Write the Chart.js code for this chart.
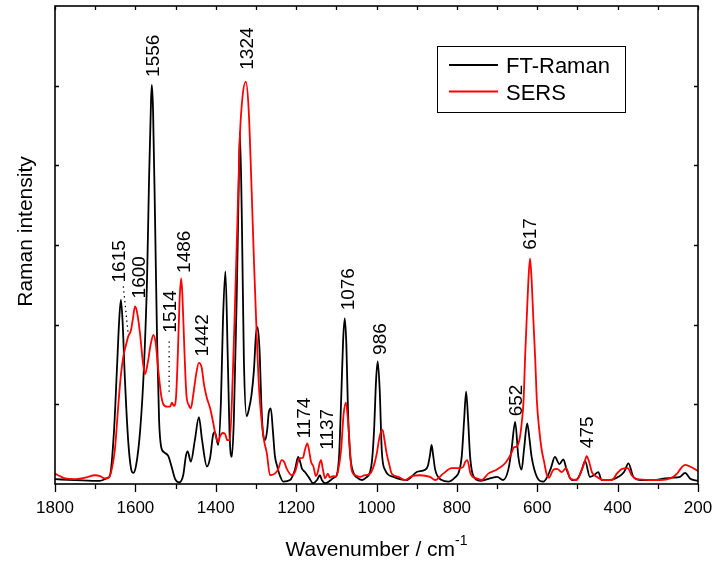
<!DOCTYPE html>
<html>
<head>
<meta charset="utf-8">
<script src="https://cdn.jsdelivr.net/npm/chart.js@4/dist/chart.umd.min.js"></script>
<style>
html,body{margin:0;padding:0;background:#fff;overflow:hidden;}
#wrap{width:718px;height:563px;position:relative;overflow:hidden;}
#c{display:block;}
</style>
</head>
<body>
<div id="wrap"><canvas id="c" width="718" height="563"></canvas></div>
<script>
// ---------- data ----------
const seriesNames = ['FT-Raman', 'SERS'];

const ftWavenumber = [1800,1750,1688,1668,1663,1653,1646,1640,1636,1632,1626,1618,1611,1605,1598,1588,1579,1571,1566,1561,1559,1556,1551,1546,1541,1536,1529,1518,1509,1501,1491,1481,1474,1470,1462,1452,1442,1434,1422,1414,1406,1402,1394,1387,1382,1376,1370,1365,1360,1355,1348,1343,1340,1335,1330,1323,1317,1311,1305,1300,1296,1291,1286,1282,1277,1272,1268,1263,1258,1253,1248,1240,1232,1215,1203,1195,1190,1186,1178,1168,1158,1148,1141,1136,1128,1116,1106,1099,1093,1088,1083,1079,1075,1071,1066,1058,1048,1036,1026,1016,1011,1006,1001,997,992,987,979,958,925,900,879,872,867,863,859,854,838,821,805,795,788,782,777,772,767,755,740,718,700,685,672,664,655,647,639,633,625,619,614,601,585,576,566,556,545,535,527,514,501,489,481,469,459,448,440,419,398,384,373,361,344,311,282,262,245,232,220,200];
const ftIntensity = [0.06,0.05,0.04,0.08,0.11,0.68,1.43,2.08,2.31,2.06,1.31,0.55,0.20,0.14,0.24,0.68,1.43,2.56,3.82,4.82,5.01,4.69,3.31,1.81,0.80,0.47,0.40,0.35,0.20,0.06,0.02,0.11,0.36,0.41,0.28,0.55,0.84,0.55,0.22,0.33,0.63,0.65,0.49,1.05,2.06,2.67,1.56,0.55,0.34,0.80,2.31,3.69,4.42,3.31,1.56,0.85,0.95,1.12,1.43,1.87,1.97,1.68,0.93,0.62,0.55,0.68,0.90,0.95,0.68,0.36,0.24,0.10,0.03,0.05,0.18,0.34,0.28,0.20,0.15,0.08,0.01,0.05,0.11,0.05,0.01,0.04,0.08,0.11,0.36,1.05,1.81,2.08,1.75,0.93,0.39,0.15,0.08,0.05,0.08,0.15,0.30,0.68,1.31,1.54,1.18,0.43,0.18,0.09,0.05,0.15,0.18,0.23,0.36,0.49,0.36,0.18,0.05,0.03,0.08,0.15,0.34,0.80,1.16,0.80,0.34,0.07,0.04,0.07,0.09,0.05,0.18,0.43,0.78,0.34,0.18,0.43,0.76,0.55,0.34,0.09,0.03,0.08,0.20,0.34,0.25,0.31,0.18,0.05,0.06,0.18,0.29,0.09,0.11,0.15,0.05,0.05,0.09,0.15,0.26,0.09,0.05,0.05,0.07,0.08,0.09,0.14,0.07,0.04];

const sersWavenumber = [1800,1788,1775,1750,1725,1700,1688,1676,1666,1659,1651,1642,1636,1630,1623,1618,1611,1606,1601,1596,1588,1582,1576,1569,1562,1555,1549,1543,1536,1531,1521,1514,1509,1504,1499,1494,1490,1486,1483,1478,1473,1467,1462,1456,1449,1442,1435,1429,1422,1414,1406,1399,1394,1389,1383,1377,1371,1365,1358,1352,1346,1340,1333,1325,1318,1311,1305,1298,1292,1286,1280,1273,1265,1253,1245,1236,1230,1224,1211,1203,1192,1183,1178,1172,1167,1163,1157,1151,1146,1142,1138,1134,1128,1121,1116,1108,1101,1095,1088,1082,1076,1071,1068,1062,1053,1041,1029,1016,1006,999,994,990,985,980,975,969,962,946,929,912,892,867,854,834,813,797,785,779,774,766,751,738,722,701,680,664,658,651,643,638,634,630,626,622,618,614,610,605,601,595,589,583,577,571,560,551,539,528,518,502,489,482,477,471,464,452,436,414,402,389,375,365,352,319,294,269,252,242,232,216,200];
const sersIntensity = [0.13,0.10,0.07,0.06,0.08,0.11,0.10,0.07,0.08,0.18,0.43,1.02,1.37,1.60,1.75,1.85,1.93,2.08,2.23,2.16,1.87,1.56,1.38,1.53,1.75,1.87,1.75,1.43,1.12,1.01,0.97,0.97,1.02,0.98,1.08,1.68,2.31,2.58,2.37,1.68,1.12,0.99,0.95,1.12,1.37,1.52,1.46,1.24,1.08,0.95,0.76,0.58,0.53,0.60,0.64,0.63,0.55,0.55,1.31,2.27,3.31,4.36,4.88,5.05,4.69,3.73,2.81,1.85,1.18,0.80,0.55,0.39,0.11,0.13,0.18,0.30,0.28,0.20,0.11,0.15,0.32,0.33,0.43,0.51,0.40,0.28,0.22,0.10,0.15,0.25,0.30,0.20,0.07,0.13,0.08,0.10,0.09,0.18,0.43,0.87,1.02,0.80,0.59,0.18,0.11,0.09,0.11,0.13,0.24,0.39,0.55,0.64,0.68,0.55,0.39,0.26,0.13,0.09,0.05,0.10,0.11,0.09,0.05,0.13,0.20,0.20,0.21,0.28,0.30,0.13,0.07,0.05,0.13,0.18,0.26,0.39,0.46,0.47,0.59,0.80,1.05,1.62,2.10,2.56,2.83,2.56,2.10,1.56,1.05,0.68,0.43,0.28,0.13,0.08,0.18,0.19,0.15,0.20,0.07,0.05,0.18,0.28,0.35,0.28,0.15,0.09,0.05,0.05,0.13,0.19,0.20,0.11,0.06,0.05,0.05,0.07,0.13,0.20,0.24,0.21,0.16];

const xTickValues = [200,400,600,800,1000,1200,1400,1600,1800];

// peak annotations: text, wavenumber of label, intensity at label foot
const peakText = ['1615','1600','1556','1514','1486','1442','1324','1174','1137','1076','986','652','617','475'];
const peakWavenumber = [1642,1594,1558,1515,1481,1436,1324,1182,1126,1073,993,654,620,479];
const peakLabelFoot = [2.53,2.33,5.11,1.90,2.65,1.60,5.20,0.57,0.43,2.18,1.62,0.85,2.94,0.45];
// dotted leader lines [wavenumber1, intensity1, wavenumber2, intensity2]
const leaderLines = [[1630,2.48,1618,1.89],[1516,1.79,1516,1.14]];

// ---------- chart ----------
const FONT = '"Liberation Sans", Arial, Helvetica, sans-serif';
const COLORS = ['#000000', '#ff0000'];

const decor = {
  id: 'decor',
  afterDatasetsDraw(chart) {
    const {ctx, chartArea: a, scales} = chart;
    const xs = scales.x, ys = scales.y;
    ctx.save();
    ctx.fillStyle = '#000';
    ctx.strokeStyle = '#000';

    // dotted leaders
    ctx.lineWidth = 1.3;
    ctx.setLineDash([1.3, 3.6]);
    leaderLines.forEach(l => {
      ctx.beginPath();
      ctx.moveTo(xs.getPixelForValue(l[0]), ys.getPixelForValue(l[1]));
      ctx.lineTo(xs.getPixelForValue(l[2]), ys.getPixelForValue(l[3]));
      ctx.stroke();
    });
    ctx.setLineDash([]);

    // rotated peak labels
    const lf = 19;
    ctx.font = lf + 'px ' + FONT;
    ctx.textAlign = 'left';
    ctx.textBaseline = 'alphabetic';
    peakText.forEach((t, i) => {
      const px = xs.getPixelForValue(peakWavenumber[i]);
      const py = ys.getPixelForValue(peakLabelFoot[i]);
      ctx.save();
      ctx.translate(px, py);
      ctx.rotate(-Math.PI / 2);
      ctx.fillText(t, 0, lf * 0.716 / 2);
      ctx.restore();
    });

    // frame
    ctx.lineWidth = 1.6;
    ctx.strokeRect(a.left, a.top, a.right - a.left, a.bottom - a.top);

    // ticks
    ctx.lineWidth = 1.3;
    ctx.beginPath();
    for (let v = xs.min; v <= xs.max; v += 100) {
      const px = Math.round(xs.getPixelForValue(v)) + 0.5;
      const major = v % 200 === 0;
      ctx.moveTo(px, a.bottom); ctx.lineTo(px, a.bottom + (major ? 8 : 5));
      ctx.moveTo(px, a.top); ctx.lineTo(px, a.top + 4);
    }
    for (let v = ys.min + 1; v < ys.max; v += 1) {
      const py = Math.round(ys.getPixelForValue(v)) + 0.5;
      ctx.moveTo(a.left, py); ctx.lineTo(a.left + 4, py);
      ctx.moveTo(a.right, py); ctx.lineTo(a.right - 4, py);
    }
    ctx.stroke();

    // legend
    const lx = a.right - 261, ly = a.top + 40, lw = 188, lh = 66;
    ctx.lineWidth = 1;
    ctx.strokeRect(lx + 0.5, ly + 0.5, lw, lh);
    ctx.font = '22px ' + FONT;
    chart.data.datasets.forEach((ds, i) => {
      const yy = ly + 19 + i * 26.5;
      ctx.strokeStyle = ds.borderColor;
      ctx.lineWidth = 1.8;
      ctx.beginPath(); ctx.moveTo(lx + 12, yy); ctx.lineTo(lx + 61, yy); ctx.stroke();
      ctx.fillStyle = '#000';
      ctx.fillText(ds.label, lx + 69, yy + 8);
    });

    // axis titles
    ctx.fillStyle = '#000';
    ctx.font = '21px ' + FONT;
    const main = 'Wavenumber / cm';
    const sup = '-1';
    const mw = ctx.measureText(main).width;
    ctx.font = '14px ' + FONT;
    const sw = ctx.measureText(sup).width;
    const cx = (a.left + a.right) / 2;
    const startX = cx - (mw + sw) / 2;
    ctx.font = '21px ' + FONT;
    ctx.textAlign = 'left';
    ctx.fillText(main, startX, 555.5);
    ctx.font = '14px ' + FONT;
    ctx.fillText(sup, startX + mw, 545);

    ctx.save();
    ctx.translate(31.5, 231.5);
    ctx.rotate(-Math.PI / 2);
    ctx.font = '21px ' + FONT;
    ctx.textAlign = 'center';
    ctx.fillText('Raman intensity', 0, 0);
    ctx.restore();

    ctx.restore();
  }
};

const toPoints = (xsArr, ysArr) => xsArr.map((w, i) => ({x: w, y: ysArr[i]}));

new Chart(document.getElementById('c'), {
  type: 'line',
  data: {
    datasets: [
      {label: seriesNames[0], data: toPoints(ftWavenumber, ftIntensity), borderColor: COLORS[0], borderWidth: 1.8, order: 2},
      {label: seriesNames[1], data: toPoints(sersWavenumber, sersIntensity), borderColor: COLORS[1], borderWidth: 1.8, order: 1}
    ]
  },
  options: {
    responsive: false,
    maintainAspectRatio: false,
    devicePixelRatio: 1,
    animation: false,
    layout: {padding: {left: 0, right: 20, top: 6, bottom: 0}},
    elements: {
      point: {radius: 0, hoverRadius: 0},
      line: {cubicInterpolationMode: 'monotone', fill: false}
    },
    plugins: {legend: {display: false}, tooltip: {enabled: false}},
    scales: {
      x: {
        type: 'linear',
        reverse: true,
        min: 200,
        max: 1800,
        grid: {display: false, drawTicks: false, tickLength: 0},
        border: {display: false},
        afterBuildTicks: s => { s.ticks = xTickValues.map(v => ({value: v})); },
        ticks: {
          color: '#000',
          font: {family: FONT, size: 17},
          padding: 14,
          maxRotation: 0,
          autoSkip: false,
          callback: v => String(v)
        },
        afterFit: s => { s.height = 79; s.paddingLeft = 0; s.paddingRight = 0; }
      },
      y: {
        type: 'linear',
        min: 0,
        max: 6,
        grid: {display: false, drawTicks: false, tickLength: 0},
        border: {display: false},
        ticks: {display: false, stepSize: 1},
        afterFit: s => { s.width = 55; }
      }
    }
  },
  plugins: [decor]
});
</script>
</body>
</html>
